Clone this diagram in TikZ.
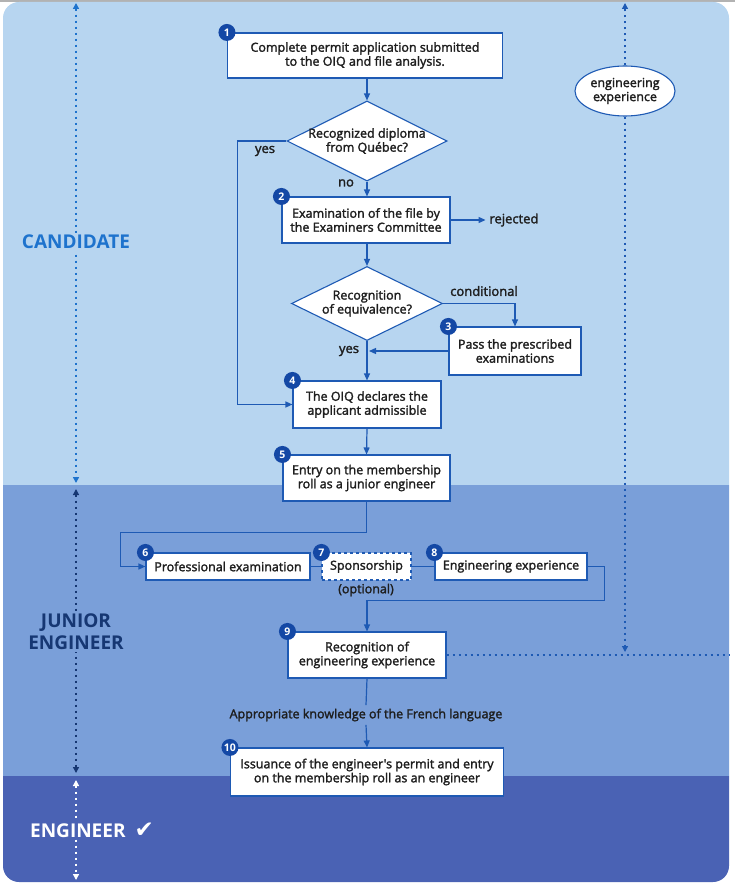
\documentclass[tikz,border=0pt]{standalone}
\usepackage{fontspec}
\setmainfont{Open Sans}
\newfontfamily\flowfont[RawFeature={embolden=2}]{Open Sans}
\newfontfamily\symfont{DejaVu Sans}
\usepackage{xcolor}
\usepackage{tikz}
\usetikzlibrary{arrows.meta,positioning,shapes.geometric,calc}
\definecolor{candfill}{RGB}{183,213,240}
\definecolor{juniorfill}{RGB}{122,159,217}
\definecolor{engfill}{RGB}{74,98,180}
\definecolor{flowblue}{RGB}{30,90,180}
\definecolor{badgeblue}{RGB}{20,72,165}
\definecolor{candtext}{RGB}{30,115,205}
\definecolor{juniortext}{RGB}{22,55,115}
\definecolor{textgrey}{RGB}{30,30,30}

\begin{document}
\begin{tikzpicture}[
    x=1pt, y=-1pt,
    box/.style={draw=flowblue, fill=white, line width=1.1pt, align=center, inner sep=2pt,
                font=\flowfont\fontsize{12.5}{14}\selectfont, text=textgrey},
    decision/.style={draw=flowblue, fill=white, line width=1.1pt, diamond, inner sep=0pt},
    dtext/.style={align=center, font=\flowfont\fontsize{12.5}{14}\selectfont, text=textgrey},
    badge/.style={circle, fill=badgeblue, text=white, inner sep=0pt, minimum size=17pt,
                  font=\fontsize{10.5}{10.5}\selectfont\bfseries},
    lbl/.style={font=\flowfont\fontsize{13}{15}\selectfont, text=textgrey},
    small/.style={font=\flowfont\fontsize{12.5}{14}\selectfont, text=textgrey},
    phase/.style={font=\fontsize{19}{22}\selectfont\bfseries, align=center, inner sep=2pt},
    line/.style={draw=flowblue, line width=1.2pt},
    arrow/.style={line, -{Triangle[length=7pt,width=6pt]}},
    dotline/.style={line width=1.3pt, dash pattern=on 2pt off 4pt},
    dottip/.style={-{Triangle[length=6pt,width=6pt]}},
]
\useasboundingbox (0,0) rectangle (735,885);

% ─────────────────────────────────────────
% Background bands
% ─────────────────────────────────────────
\fill[black!30] (0,0) rectangle (735,2);
\begin{scope}
  \clip[rounded corners=16pt] (3,2) rectangle (729,882);
  \fill[candfill]   (0,0)   rectangle (735,485);
  \fill[juniorfill] (0,485) rectangle (735,776);
  \fill[engfill]    (0,776) rectangle (735,885);
\end{scope}

% ─────────────────────────────────────────
% Phase axis on the left
% ─────────────────────────────────────────
\coordinate (candtop) at (76,3);
\coordinate (candbot) at (76,483);
\coordinate (juntop)  at (76,489);
\coordinate (junbot)  at (76,773);
\coordinate (engtop)  at (76,780);
\coordinate (engbot)  at (76,880);

\draw[dotline, candtext, {Triangle[length=6pt,width=6pt]}-{Triangle[length=6pt,width=6pt]}] (candtop) -- (candbot);
\draw[dotline, juniortext, {Triangle[length=6pt,width=6pt]}-{Triangle[length=6pt,width=6pt]}] (juntop) -- (junbot);
\draw[dotline, white, {Triangle[length=6pt,width=6pt]}-{Triangle[length=6pt,width=6pt]}] (engtop) -- (engbot);

\node[phase, fill=candfill, text=candtext] (candlbl) at (76,242) {CANDIDATE};
\node[phase, fill=juniorfill, text=juniortext] (junlbl) at (76,632) {JUNIOR\\ENGINEER};
\node[phase, fill=engfill, text=white] (englbl) at (92,830) {ENGINEER\hspace{9pt}{\symfont\fontsize{23}{23}\selectfont ✔}};

% ─────────────────────────────────────────
% Candidate steps
% ─────────────────────────────────────────
\node[box, minimum width=275pt, minimum height=45pt] (apply) at (365,55.5)
    {Complete permit application submitted\\to the OIQ and file analysis.};
\node[badge] (n1) at (apply.north west) {1};

\node[decision, minimum width=160pt, minimum height=80pt] (diploma) at (367,141) {};
\node[dtext] (diplomatxt) at (diploma) {Recognized diploma\\from Québec?};

\node[box, minimum width=168pt, minimum height=46pt] (exam) at (366,220)
    {Examination of the file by\\the Examiners Committee};
\node[badge] (n2) at (exam.north west) {2};

\node[decision, minimum width=151pt, minimum height=74pt] (equiv) at (367,303.5) {};
\node[dtext] (equivtxt) at (equiv) {Recognition\\of equivalence?};

\node[box, minimum width=132pt, minimum height=48pt] (pass) at (515,351)
    {Pass the prescribed\\examinations};
\node[badge] (n3) at (pass.north west) {3};

\node[box, minimum width=148pt, minimum height=47pt] (admit) at (367,404.5)
    {The OIQ declares the\\applicant admissible};
\node[badge] (n4) at (admit.north west) {4};

\node[box, minimum width=167pt, minimum height=46pt] (entry) at (366.5,478)
    {Entry on the membership\\roll as a junior engineer};
\node[badge] (n5) at (entry.north west) {5};

% side note
\node[ellipse, draw=flowblue, fill=white, line width=1.1pt, minimum width=100pt, minimum height=50pt,
      inner sep=0pt, align=center, font=\flowfont\fontsize{12.5}{14}\selectfont, text=textgrey] (expnote) at (625,91)
    {engineering\\experience};

% branch labels
\node[lbl] (yes1) at (265,151) {yes};
\node[lbl] (no1) at (346,183) {no};
\node[lbl] (cond) at (484,291) {conditional};
\node[lbl] (yes2) at (349,351) {yes};

\draw[arrow] (apply.south -| diploma.north) -- (diploma.north);
\draw[arrow] (diploma.south) -- (exam.north -| diploma.south);
\draw[arrow] (diploma.west) -- ++(-49,0) |- (admit.west);
\draw[arrow] (exam.east) -- ++(35,0) node[lbl, right] (rej) {rejected};
\draw[arrow] (exam.south -| equiv.north) -- (equiv.north);
\draw[arrow] (equiv.east) -| (pass.north);
\draw[arrow] (pass.west) -- ([xshift=2pt]pass.west -| equiv.south);
\draw[arrow] (equiv.south) -- (admit.north);
\draw[arrow] (admit.south) -- (entry.south |- entry.north);

% ─────────────────────────────────────────
% Junior engineer steps
% ─────────────────────────────────────────
\node[box, minimum width=164pt, minimum height=27pt] (profexam) at (228,566.5) {Professional examination};
\node[badge] (n6) at (profexam.north west) {6};

\node[box, dashed, minimum width=89pt, minimum height=27pt] (sponsor) at (366.5,566.5) {Sponsorship};
\node[badge] (n7) at (sponsor.north west) {7};
\node[small] (opt) at (366,590) {(optional)};

\node[box, minimum width=152pt, minimum height=27pt] (engexp) at (511,566.5) {Engineering experience};
\node[badge] (n8) at (engexp.north west) {8};

\node[box, minimum width=158pt, minimum height=46pt] (recog) at (367,655)
    {Recognition of\\engineering experience};
\node[badge] (n9) at (recog.north west) {9};

\node[small] (french) at (366,715) {Appropriate knowledge of the French language};

\node[box, minimum width=273pt, minimum height=48pt] (issue) at (367,772)
    {Issuance of the engineer's permit and entry\\on the membership roll as an engineer};
\node[badge] (n10) at (issue.north west) {10};

\draw[arrow] (entry.south) -- ++(0,31) -| ([xshift=-25pt]profexam.west) -- (profexam.west);
\draw[line] (profexam) -- (sponsor);
\draw[line] (sponsor) -- (engexp);
\draw[arrow] (engexp.east) -- ++(17,0) -- ++(0,34) -| (recog.north);
\draw[line] (recog.south) -- (french.north);
\draw[arrow] (french.south) -- (issue.north);

% experience track on the right
\coordinate (exptop) at (625,3);
\coordinate (expdown) at (625,652);
\coordinate (rightedge) at (729,655);
\draw[dotline, flowblue, dottip] (expnote.north) -- (exptop);
\draw[dotline, flowblue, dottip] (expnote.south) -- (expdown);
\draw[dotline, flowblue] (recog.east) -- (rightedge);

\end{tikzpicture}
\end{document}
